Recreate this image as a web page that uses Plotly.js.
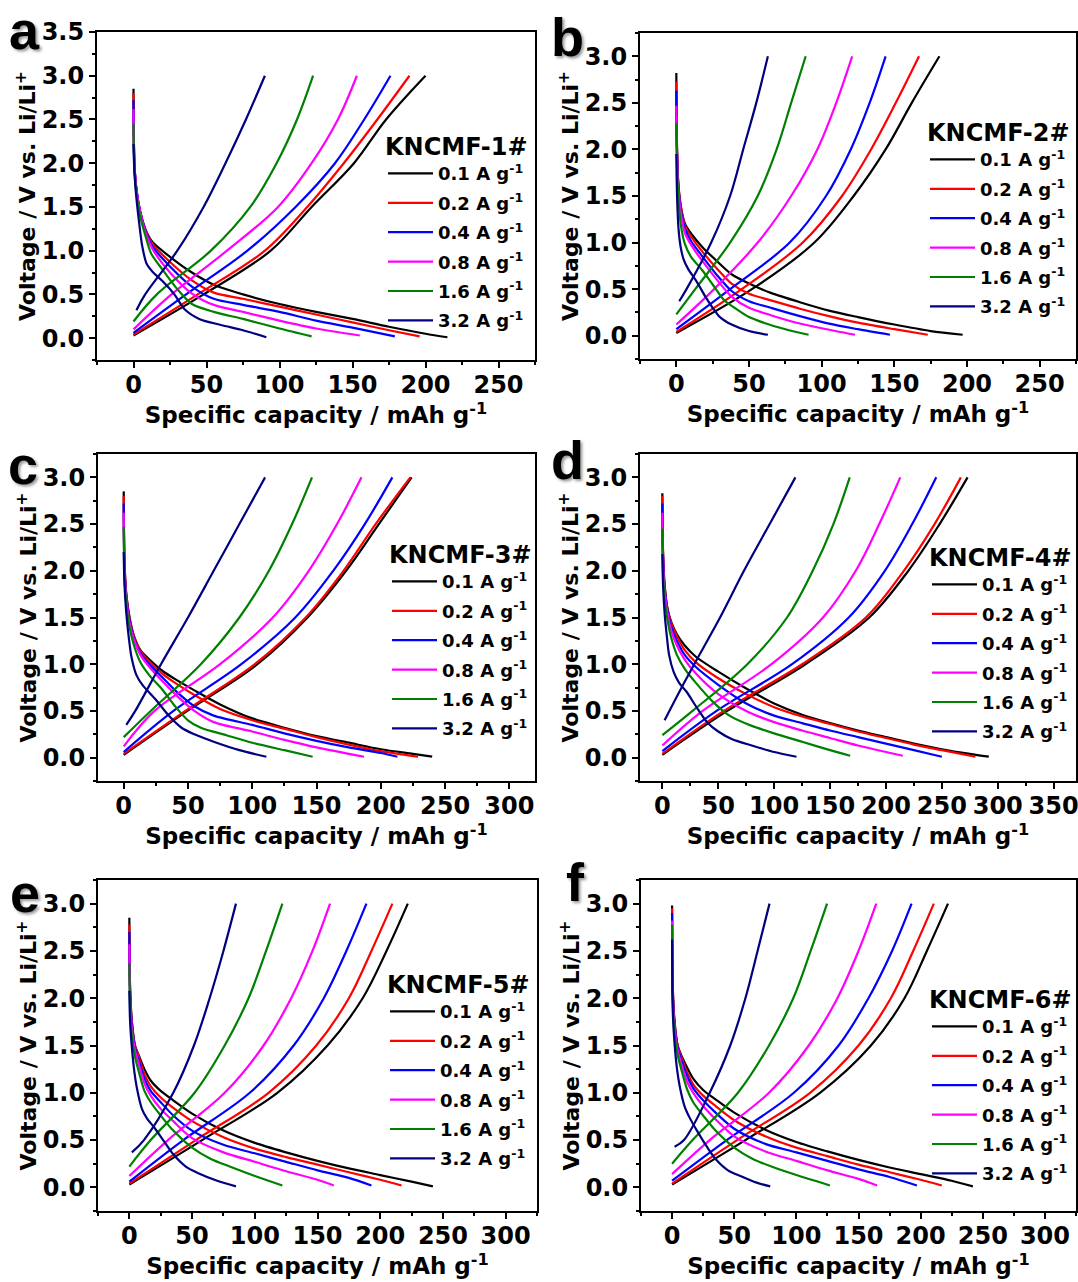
<!DOCTYPE html>
<html>
<head>
<meta charset="utf-8">
<script src="https://cdn.plot.ly/plotly-3.0.1.min.js"></script>
<style>html,body{margin:0;padding:0;background:#fff;}#chart{width:1078px;height:1282px;}</style>
</head>
<body>
<div id="chart"></div>
<script>
// ---------------- DATA ----------------
const rates = ['0.1', '0.2', '0.4', '0.8', '1.6', '3.2'];
const sampleNames = ['KNCMF-1#', 'KNCMF-2#', 'KNCMF-3#', 'KNCMF-4#', 'KNCMF-5#', 'KNCMF-6#'];
const panelLetters = ['a', 'b', 'c', 'd', 'e', 'f'];

// Panel a (KNCMF-1#) discharge
const capDisA = [
  [0,0.6,2,4.5,8,13,25,40,55,75,100,125,150,175,200,215],
  [0,0.6,2,4.5,8,13,25,40,55,75,100,125,150,175,196],
  [0,0.6,2,4.5,8,13,25,40,55,75,100,125,150,179],
  [0,0.6,2,4.5,8,13,25,40,55,75,100,125,155],
  [0,0.6,2,4.5,8,12,20,30,40,55,75,100,122],
  [0,0.6,2,4,6,9,13,20,28,35,45,60,75,91]
];
const voltDisA = [
  [2.85,2.0,1.7,1.45,1.25,1.1,0.93,0.75,0.61,0.5,0.39,0.3,0.22,0.13,0.05,0.01],
  [2.8,2.0,1.7,1.45,1.25,1.08,0.87,0.66,0.52,0.45,0.36,0.27,0.18,0.09,0.02],
  [2.72,2.0,1.7,1.45,1.24,1.05,0.82,0.59,0.45,0.38,0.3,0.2,0.12,0.02],
  [2.62,2.0,1.7,1.45,1.22,1.02,0.75,0.51,0.38,0.3,0.2,0.11,0.03],
  [2.45,1.95,1.65,1.4,1.18,0.97,0.78,0.56,0.39,0.3,0.22,0.11,0.02],
  [2.22,1.9,1.6,1.3,1.05,0.85,0.76,0.65,0.5,0.33,0.22,0.15,0.09,0.01]
];
// Panel a charge
const capChgA = [
  [0,48,94,122,151,173,200],
  [0,44,90,119,144,167,189],
  [0,36,78,111,138,158,176],
  [0,26,64,99,122,140,153],
  [0,16,53,80,98,112,123],
  [2,8,30,48,63,77,90]
];
const voltChgA = [
  [0.03,0.5,1.0,1.5,2.0,2.5,3.0],
  [0.04,0.5,1.0,1.5,2.0,2.5,3.0],
  [0.06,0.5,1.0,1.5,2.0,2.5,3.0],
  [0.10,0.5,1.0,1.5,2.0,2.5,3.0],
  [0.19,0.5,1.0,1.5,2.0,2.5,3.0],
  [0.32,0.5,1.0,1.5,2.0,2.5,3.0]
];

// Panel b (KNCMF-2#)
const capDisB = [
  [0,0.5,1.5,3.5,6,10,18,28,38,50,65,85,105,125,150,175,197],
  [0,0.5,1.5,3.5,6,10,18,28,38,50,65,85,105,125,150,173],
  [0,0.5,1.5,3.5,6,10,18,28,38,50,65,85,105,125,147],
  [0,0.5,1.5,3.5,6,10,18,28,38,50,65,80,100,123],
  [0,0.5,1.5,3.5,6,10,18,25,33,40,50,60,75,91],
  [0,0.5,1.5,3,5,8,14,20,25,30,38,50,63]
];
const voltDisB = [
  [2.82,2.0,1.6,1.35,1.2,1.1,0.95,0.8,0.66,0.56,0.46,0.36,0.27,0.2,0.12,0.05,0.01],
  [2.73,2.0,1.6,1.35,1.18,1.07,0.9,0.72,0.56,0.45,0.38,0.29,0.21,0.14,0.07,0.01],
  [2.63,1.95,1.58,1.32,1.15,1.02,0.85,0.65,0.48,0.37,0.3,0.21,0.13,0.07,0.01],
  [2.47,1.9,1.55,1.28,1.1,0.98,0.8,0.6,0.42,0.3,0.22,0.15,0.08,0.01],
  [2.28,1.8,1.45,1.15,0.98,0.85,0.7,0.55,0.38,0.3,0.2,0.14,0.07,0.01],
  [1.95,1.5,1.15,0.95,0.82,0.72,0.58,0.42,0.3,0.2,0.12,0.05,0.01]
];
const capChgB = [
  [0,52,95,122,144,162,181],
  [0,45,87,114,134,151,167],
  [0,37,78,103,120,133,144],
  [0,26,56,79,97,110,121],
  [0,13,37,56,69,79,89],
  [2,7,24,37,46,55,63]
];
const voltChgB = [
  [0.03,0.5,1.0,1.5,2.0,2.5,3.0],
  [0.04,0.5,1.0,1.5,2.0,2.5,3.0],
  [0.07,0.5,1.0,1.5,2.0,2.5,3.0],
  [0.12,0.5,1.0,1.5,2.0,2.5,3.0],
  [0.23,0.5,1.0,1.5,2.0,2.5,3.0],
  [0.37,0.5,1.0,1.5,2.0,2.5,3.0]
];

// Panel c (KNCMF-3#)
const capDisC = [
  [0,0.6,2,4.5,8,13,20,30,40,55,75,100,125,150,175,200,225,240],
  [0,0.6,2,4.5,8,13,20,30,40,55,75,100,125,150,175,200,229],
  [0,0.6,2,4.5,8,13,20,30,40,55,70,100,125,150,175,200,213],
  [0,0.6,2,4.5,8,13,20,30,40,55,70,100,125,150,187],
  [0,0.6,2,4.5,8,13,20,30,40,50,60,80,100,125,147],
  [0,0.6,2,4,6,10,15,25,35,45,55,70,90,111]
];
const voltDisC = [
  [2.85,2.1,1.75,1.5,1.3,1.15,1.05,0.93,0.84,0.72,0.57,0.42,0.32,0.23,0.16,0.09,0.04,0.01],
  [2.8,2.1,1.75,1.5,1.3,1.14,1.03,0.9,0.8,0.67,0.52,0.4,0.31,0.22,0.14,0.07,0.01],
  [2.72,2.05,1.72,1.48,1.28,1.12,1.0,0.86,0.72,0.55,0.45,0.35,0.26,0.18,0.11,0.05,0.01],
  [2.62,2.0,1.7,1.45,1.26,1.1,0.97,0.82,0.68,0.5,0.38,0.28,0.19,0.11,0.01],
  [2.47,1.95,1.65,1.4,1.2,1.02,0.88,0.73,0.55,0.4,0.32,0.24,0.16,0.08,0.01],
  [2.2,1.85,1.55,1.28,1.08,0.88,0.77,0.62,0.45,0.32,0.25,0.17,0.08,0.01]
];
const capChgC = [
  [0,49.5,104,143,173,198.5,224],
  [0,48,102,141.6,171,196,223],
  [0,38.7,91.5,133.5,163,187.6,209],
  [0,24,75,116,144,166,185],
  [0,21,60,90,113,131,146.5],
  [2,9,29,50,70,90,110]
];
const voltChgC = [
  [0.03,0.5,1.0,1.5,2.0,2.5,3.0],
  [0.04,0.5,1.0,1.5,2.0,2.5,3.0],
  [0.06,0.5,1.0,1.5,2.0,2.5,3.0],
  [0.12,0.5,1.0,1.5,2.0,2.5,3.0],
  [0.22,0.5,1.0,1.5,2.0,2.5,3.0],
  [0.35,0.5,1.0,1.5,2.0,2.5,3.0]
];

// Panel d (KNCMF-4#)
const capDisD = [
  [0,0.6,2,4.5,8,13,20,30,50,75,100,125,150,175,200,225,250,275,292],
  [0,0.6,2,4.5,8,13,20,30,50,75,100,125,150,175,200,225,250,280],
  [0,0.6,2,4.5,8,13,20,30,50,75,100,125,150,175,200,225,250],
  [0,0.6,2,4.5,8,13,20,30,50,75,100,125,150,175,200,215],
  [0,0.6,2,4.5,8,13,20,30,45,60,80,100,125,150,168],
  [0,0.6,2,4,6,10,15,22,30,40,50,62,80,100,120]
];
const voltDisD = [
  [2.83,2.2,1.85,1.6,1.45,1.32,1.2,1.08,0.92,0.74,0.58,0.46,0.37,0.29,0.22,0.15,0.09,0.04,0.01],
  [2.8,2.2,1.85,1.6,1.44,1.3,1.15,1.02,0.85,0.68,0.54,0.44,0.36,0.28,0.21,0.14,0.08,0.01],
  [2.72,2.15,1.82,1.58,1.4,1.25,1.1,0.97,0.78,0.58,0.45,0.37,0.29,0.22,0.15,0.08,0.01],
  [2.62,2.1,1.78,1.55,1.36,1.2,1.05,0.9,0.68,0.5,0.38,0.29,0.21,0.13,0.06,0.02],
  [2.45,2.0,1.7,1.48,1.28,1.1,0.95,0.8,0.6,0.45,0.34,0.26,0.17,0.08,0.02],
  [2.18,1.85,1.55,1.3,1.1,0.92,0.8,0.7,0.55,0.38,0.28,0.2,0.13,0.06,0.01]
];
const capChgD = [
  [0,58,128,185,220,248,273],
  [0,55,125,182,216,243.5,267],
  [0,48.5,116,166.7,199,223.5,245],
  [0,36,97.6,143.7,173,194,212.8],
  [0,27,76,111.5,134.5,153,167.6],
  [2,15,28.5,51.6,73,96,119]
];
const voltChgD = [
  [0.03,0.5,1.0,1.5,2.0,2.5,3.0],
  [0.04,0.5,1.0,1.5,2.0,2.5,3.0],
  [0.07,0.5,1.0,1.5,2.0,2.5,3.0],
  [0.13,0.5,1.0,1.5,2.0,2.5,3.0],
  [0.24,0.5,1.0,1.5,2.0,2.5,3.0],
  [0.40,0.7,1.0,1.5,2.0,2.5,3.0]
];

// Panel e (KNCMF-5#)
const capDisE = [
  [0,0.6,2,4.5,8,12,17,25,35,50,75,100,125,150,175,200,225,242],
  [0,0.6,2,4.5,8,12,17,25,35,50,75,100,125,150,175,200,217],
  [0,0.6,2,4.5,8,12,17,25,35,50,75,100,125,150,175,193],
  [0,0.6,2,4.5,8,12,17,25,35,50,75,100,125,150,163],
  [0,0.6,2,4.5,8,12,17,25,35,50,65,80,100,122],
  [0,0.6,2,4,6,10,14,20,28,35,45,55,70,85]
];
const voltDisE = [
  [2.85,2.1,1.75,1.5,1.38,1.25,1.13,1.02,0.92,0.78,0.6,0.47,0.37,0.28,0.2,0.13,0.06,0.01],
  [2.78,2.1,1.75,1.5,1.36,1.2,1.07,0.95,0.84,0.7,0.53,0.41,0.32,0.24,0.16,0.08,0.02],
  [2.7,2.05,1.72,1.48,1.32,1.15,1.02,0.9,0.76,0.6,0.45,0.36,0.27,0.18,0.1,0.02],
  [2.57,2.0,1.68,1.45,1.28,1.1,0.97,0.83,0.7,0.52,0.37,0.27,0.17,0.08,0.02],
  [2.37,1.9,1.6,1.38,1.2,1.02,0.9,0.76,0.6,0.42,0.3,0.22,0.12,0.02],
  [2.08,1.75,1.48,1.22,1.05,0.83,0.73,0.63,0.48,0.35,0.22,0.15,0.07,0.01]
];
const capChgE = [
  [0,58,118,158,186,205,222],
  [0,53,111,149,175,193,209.7],
  [0,43,96,131,155,173,189],
  [0,30.8,76,107,129,146,160],
  [0,17,52,76,95,109,122],
  [2,11.6,35,51.5,64,75,85]
];
const voltChgE = [
  [0.03,0.5,1.0,1.5,2.0,2.5,3.0],
  [0.04,0.5,1.0,1.5,2.0,2.5,3.0],
  [0.06,0.5,1.0,1.5,2.0,2.5,3.0],
  [0.12,0.5,1.0,1.5,2.0,2.5,3.0],
  [0.22,0.5,1.0,1.5,2.0,2.5,3.0],
  [0.37,0.5,1.0,1.5,2.0,2.5,3.0]
];

// Panel f (KNCMF-6#)
const capDisF = [
  [0,0.6,2,4.5,8,12,17,25,35,50,75,100,125,150,175,200,225,242],
  [0,0.6,2,4.5,8,12,17,25,35,50,75,100,125,150,175,200,217],
  [0,0.6,2,4.5,8,12,17,25,35,50,75,100,125,150,175,197],
  [0,0.6,2,4.5,8,12,17,25,35,50,75,100,125,150,165],
  [0,0.6,2,4.5,8,12,17,25,35,50,65,80,100,127],
  [0,0.6,2,4,6,10,14,20,28,35,45,55,68,79]
];
const voltDisF = [
  [2.98,2.1,1.75,1.5,1.38,1.27,1.15,1.03,0.93,0.79,0.61,0.48,0.38,0.29,0.21,0.14,0.07,0.01],
  [2.95,2.1,1.75,1.5,1.36,1.22,1.09,0.97,0.86,0.71,0.54,0.42,0.33,0.24,0.16,0.08,0.02],
  [2.9,2.05,1.72,1.48,1.33,1.18,1.05,0.92,0.79,0.62,0.46,0.37,0.28,0.19,0.11,0.02],
  [2.82,2.0,1.68,1.45,1.28,1.12,1.0,0.86,0.72,0.54,0.38,0.28,0.18,0.09,0.02],
  [2.78,1.95,1.62,1.4,1.22,1.04,0.9,0.76,0.6,0.42,0.3,0.22,0.13,0.02],
  [2.62,1.85,1.52,1.25,1.08,0.86,0.74,0.6,0.43,0.3,0.18,0.12,0.05,0.01]
];
const capChgF = [
  [0,59,119,160,187,205,222],
  [0,52.3,111,150,176,194,210.6],
  [0,44,98,134,158,177,192.7],
  [0,30.3,78,110,133,150,164.3],
  [0,16.5,53,78,97.5,111.5,124.7],
  [2,9.6,30.3,46.8,59,68.8,78.4]
];
const voltChgF = [
  [0.03,0.5,1.0,1.5,2.0,2.5,3.0],
  [0.04,0.5,1.0,1.5,2.0,2.5,3.0],
  [0.07,0.5,1.0,1.5,2.0,2.5,3.0],
  [0.14,0.5,1.0,1.5,2.0,2.5,3.0],
  [0.25,0.5,1.0,1.5,2.0,2.5,3.0],
  [0.43,0.5,1.0,1.5,2.0,2.5,3.0]
];

// ---------------- CHART ----------------
const colors = ['#000000', '#FF0000', '#0000FF', '#FF00FF', '#008000', '#000080'];
const FONT = 'DejaVu Sans, Arial, sans-serif';
const W = 1078, H = 1282;

const panels = [
  {dis: [capDisA, voltDisA], chg: [capChgA, voltChgA], xr: [-25, 275], yr: [-0.25, 3.5], box: [97, 535, 32, 360], leg: [383, 124], lab: [25, 30]},
  {dis: [capDisB, voltDisB], chg: [capChgB, voltChgB], xr: [-25, 275], yr: [-0.25, 3.25], box: [640, 1076, 33, 359], leg: [925, 110], lab: [567, 37]},
  {dis: [capDisC, voltDisC], chg: [capChgC, voltChgC], xr: [-20, 320], yr: [-0.25, 3.25], box: [98, 535, 454, 781], leg: [387, 532], lab: [23, 465]},
  {dis: [capDisD, voltDisD], chg: [capChgD, voltChgD], xr: [-20, 370], yr: [-0.25, 3.25], box: [640, 1076, 454, 781], leg: [927, 535], lab: [567, 460]},
  {dis: [capDisE, voltDisE], chg: [capChgE, voltChgE], xr: [-25, 325], yr: [-0.25, 3.25], box: [98, 537, 880, 1211], leg: [385, 962], lab: [25, 893]},
  {dis: [capDisF, voltDisF], chg: [capChgF, voltChgF], xr: [-25, 325], yr: [-0.25, 3.25], box: [641, 1076, 880, 1211], leg: [927, 977], lab: [575, 882]}
];

const traces = [];
const layout = {
  width: W, height: H,
  margin: {l: 0, r: 0, t: 0, b: 0},
  paper_bgcolor: '#ffffff', plot_bgcolor: '#ffffff',
  showlegend: true,
  font: {family: FONT, color: '#000', weight: 'bold'},
  annotations: []
};

panels.forEach((p, k) => {
  const sfx = k === 0 ? '' : String(k + 1);
  const xa = 'x' + sfx, ya = 'y' + sfx;
  const legName = 'legend' + sfx;
  for (let i = 0; i < 6; i++) {
    const grp = 'g' + k + '_' + i;
    traces.push({
      type: 'scatter', mode: 'lines', xaxis: xa, yaxis: ya,
      x: p.dis[0][i], y: p.dis[1][i],
      line: {color: colors[i], width: 2.2, shape: 'spline', smoothing: 0.8},
      name: rates[i] + ' A g<sup>-1</sup>',
      legend: legName, legendgroup: grp, showlegend: true, hoverinfo: 'skip'
    });
    traces.push({
      type: 'scatter', mode: 'lines', xaxis: xa, yaxis: ya,
      x: p.chg[0][i], y: p.chg[1][i],
      line: {color: colors[i], width: 2.2, shape: 'spline', smoothing: 1.0},
      name: rates[i] + ' A g<sup>-1</sup>',
      legend: legName, legendgroup: grp, showlegend: false, hoverinfo: 'skip'
    });
  }
  const [l, r, t, b] = p.box;
  const axBase = {
    showline: true, linewidth: 2, linecolor: '#000', mirror: true,
    ticks: 'outside', ticklen: 6, tickwidth: 2, tickcolor: '#000',
    showgrid: false, zeroline: false, automargin: false,
    ticklabeloverflow: 'allow',
    tickfont: {family: FONT, size: 24, weight: 'bold', color: '#000'}
  };
  layout['xaxis' + sfx] = Object.assign({}, axBase, {
    domain: [l / W, r / W], anchor: ya, range: p.xr,
    tick0: 0, dtick: 50, ticklabelstandoff: -4,
    minor: {ticks: 'outside', ticklen: 3, tickwidth: 2, tickcolor: '#000', dtick: 25, tick0: 0},
    title: {text: 'Specific capacity / mAh g<sup>-1</sup>', font: {family: FONT, size: 23, weight: 'bold', color: '#000'}, standoff: 0}
  });
  layout['yaxis' + sfx] = Object.assign({}, axBase, {
    domain: [1 - b / H, 1 - t / H], anchor: xa, range: p.yr,
    tick0: 0, dtick: 0.5, tickformat: '.1f',
    minor: {ticks: 'outside', ticklen: 3, tickwidth: 2, tickcolor: '#000', dtick: 0.25, tick0: 0},
    title: {text: 'Voltage / V vs. Li/Li<sup>+</sup>', font: {family: FONT, size: 22, weight: 'bold', color: '#000'}, standoff: 0}
  });
  layout[legName] = {
    x: p.leg[0] / W, y: 1 - p.leg[1] / H, xanchor: 'left', yanchor: 'top',
    bgcolor: 'rgba(0,0,0,0)', borderwidth: 0,
    font: {family: FONT, size: 18, weight: 'bold', color: '#000'},
    title: {text: sampleNames[k], font: {family: FONT, size: 24, weight: 'bold', color: '#000'}},
    tracegroupgap: 3, itemwidth: 45
  };
  layout.annotations.push({
    xref: 'paper', yref: 'paper', x: p.lab[0] / W, y: 1 - p.lab[1] / H,
    xanchor: 'center', yanchor: 'middle', showarrow: false,
    text: panelLetters[k],
    font: {family: 'Liberation Sans, Arial, sans-serif', size: 54, weight: 'bold', color: '#000', shadow: '2px 2px 3px #999'}
  });
});

Plotly.newPlot('chart', traces, layout, {displayModeBar: false, staticPlot: true});
</script>
</body>
</html>
